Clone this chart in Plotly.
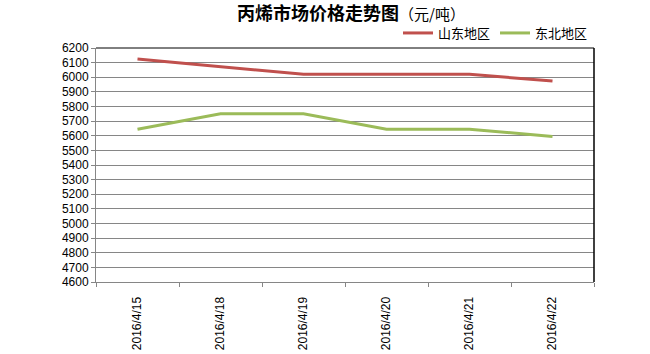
import plotly.graph_objects as go

dates = ["2016/4/15", "2016/4/18", "2016/4/19", "2016/4/20", "2016/4/21", "2016/4/22"]
shandong = [6125, 6075, 6020, 6020, 6020, 5975]
dongbei = [5645, 5750, 5750, 5645, 5645, 5595]
series_names = ["山东地区", "东北地区"]
y_ticks = list(range(4600, 6201, 100))

fig = go.Figure()
fig.add_trace(go.Scatter(x=dates, y=shandong, mode="lines", name=series_names[0],
                         line=dict(color="#C0504D", width=3)))
fig.add_trace(go.Scatter(x=dates, y=dongbei, mode="lines", name=series_names[1],
                         line=dict(color="#9BBB59", width=3)))

fig.update_layout(
    width=650, height=354,
    margin=dict(l=96, r=56, t=48, b=72, autoexpand=False),
    paper_bgcolor="white", plot_bgcolor="white",
    font=dict(family="Liberation Sans, Arial, sans-serif", size=12, color="#000000"),
    title=dict(
        text="<b>丙烯市场价格走势图</b><span style='font-size:15px'>（元/吨）</span>",
        font=dict(family="Noto Sans CJK SC", size=18, color="#000000"),
        x=351/650, xanchor="center", xref="container",
        y=1 - 14/354, yanchor="middle", yref="container",
    ),
    legend=dict(
        orientation="h", x=398/650, xanchor="left", xref="container",
        y=1 - 33/354, yanchor="middle", yref="container",
        font=dict(family="Noto Sans CJK SC", size=13, color="#000000"),
        bgcolor="rgba(0,0,0,0)", itemwidth=30, tracegroupgap=0,
    ),
    showlegend=True,
)

fig.update_xaxes(
    type="category", tickangle=-90, tickson="boundaries",
    ticks="outside", ticklen=4, tickcolor="#868686",
    showline=True, linecolor="#868686", linewidth=1,
    showgrid=False, mirror=False,
    tickfont=dict(family="Liberation Sans, Arial, sans-serif", size=12, color="#000000"),
    ticklabelstandoff=9,
    range=[-0.5, 5.5],
)
fig.update_yaxes(
    range=[4600, 6200], tickmode="array", tickvals=y_ticks,
    ticks="outside", ticklen=4, tickcolor="#868686",
    showline=True, linecolor="#868686", linewidth=1,
    showgrid=True, gridcolor="#868686", gridwidth=1,
    zeroline=False,
    tickfont=dict(family="Liberation Sans, Arial, sans-serif", size=12, color="#000000"),
)

# top and right plot-area border
fig.add_shape(type="line", xref="paper", yref="paper", x0=0, x1=1, y0=1, y1=1,
              line=dict(color="#000000", width=1))
fig.add_shape(type="line", xref="paper", yref="paper", x0=1, x1=1, y0=0, y1=1,
              line=dict(color="#000000", width=1.5))

fig.write_html("out.html")
